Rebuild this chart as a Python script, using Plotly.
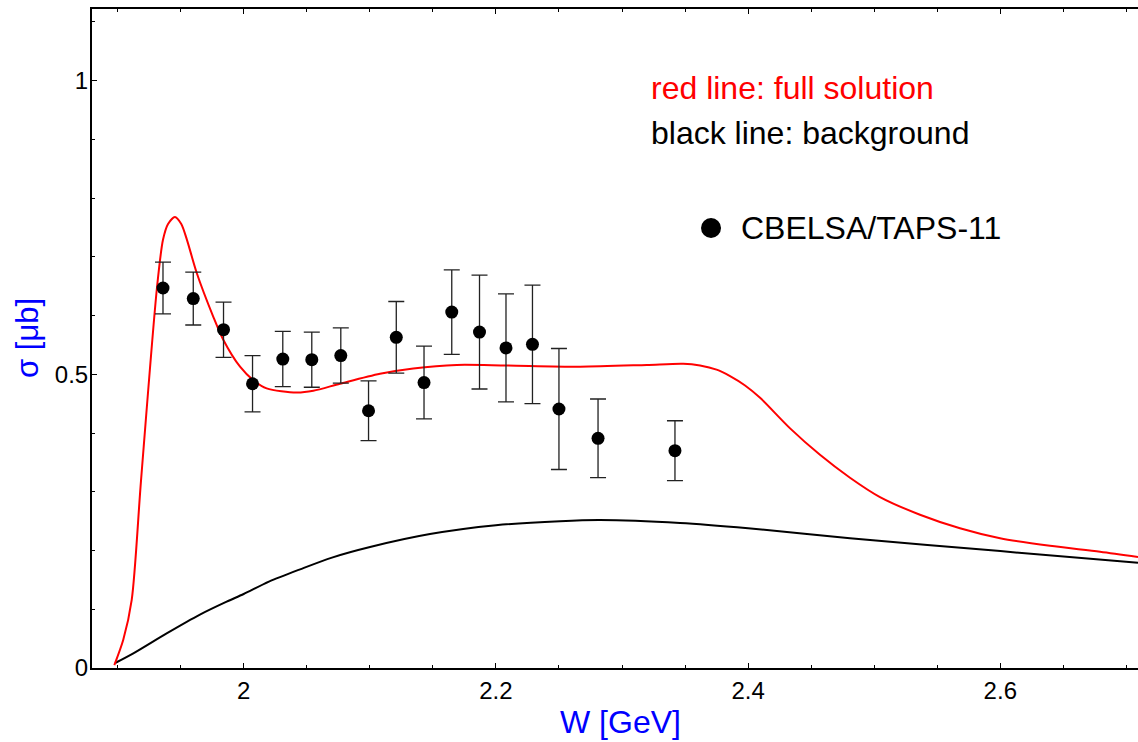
import plotly.graph_objects as go

# --- measured cross sections (CBELSA/TAPS-11) ---
w_data = [1.936, 1.960, 1.984, 2.007, 2.031, 2.054, 2.077, 2.099, 2.121,
          2.143, 2.165, 2.187, 2.208, 2.229, 2.250, 2.281, 2.342]
sigma_data = [0.647, 0.629, 0.576, 0.484, 0.526, 0.525, 0.532, 0.438, 0.563,
              0.486, 0.606, 0.572, 0.545, 0.551, 0.441, 0.391, 0.370]
sigma_err = [0.044, 0.045, 0.047, 0.048, 0.047, 0.047, 0.047, 0.051, 0.061,
             0.062, 0.072, 0.097, 0.092, 0.101, 0.103, 0.067, 0.051]

# --- full solution (red) ---
w_full = [1.8974, 1.9045, 1.9112, 1.9186, 1.9312, 1.9360, 1.9400, 1.9455,
          1.9505, 1.9550, 1.9627, 1.9759, 1.9838, 1.9971, 2.0076, 2.0182,
          2.0420, 2.0552, 2.0764, 2.1081, 2.1345, 2.1689, 2.2086, 2.2667,
          2.3196, 2.3486, 2.3619, 2.3750, 2.3857, 2.3976, 2.4095, 2.4333,
          2.4570, 2.4808, 2.5046, 2.5363, 2.5680, 2.5998, 2.6394, 2.6791,
          2.7092]
sigma_full = [0.005, 0.048, 0.116, 0.320, 0.647, 0.729, 0.756, 0.768,
              0.756, 0.729, 0.673, 0.598, 0.559, 0.513, 0.490, 0.476,
              0.469, 0.472, 0.484, 0.501, 0.510, 0.516, 0.515, 0.513,
              0.516, 0.518, 0.515, 0.508, 0.497, 0.481, 0.460, 0.408,
              0.363, 0.324, 0.291, 0.261, 0.238, 0.221, 0.208, 0.198,
              0.189]

# --- background (black) ---
w_bg = [1.898, 1.9125, 1.9389, 1.9653, 1.9865, 2.0, 2.02, 2.0447, 2.07,
        2.1002, 2.1477, 2.2, 2.2508, 2.2826, 2.346, 2.4, 2.4808, 2.6, 2.7092]
sigma_bg = [0.0085, 0.025, 0.059, 0.091, 0.113, 0.126, 0.147, 0.168, 0.188,
            0.206, 0.228, 0.243, 0.250, 0.252, 0.247, 0.238, 0.221, 0.199,
            0.179]

FONT = "Liberation Sans, Arial, sans-serif"

fig = go.Figure()

fig.add_trace(go.Scatter(
    x=w_bg, y=sigma_bg, mode="lines",
    line=dict(color="black", width=2, shape="spline", smoothing=0.8),
    hoverinfo="skip"))

fig.add_trace(go.Scatter(
    x=w_full, y=sigma_full, mode="lines",
    line=dict(color="#ff0000", width=2, shape="spline", smoothing=0.8),
    hoverinfo="skip"))

fig.add_trace(go.Scatter(
    x=w_data, y=sigma_data, mode="markers",
    marker=dict(color="black", size=13),
    error_y=dict(type="data", array=sigma_err, color="#222222",
                 thickness=1.3, width=8)))

axis_common = dict(
    showgrid=False, zeroline=False, showline=True, linecolor="black",
    linewidth=2, ticks="inside", tickcolor="black", tickwidth=1.2,
    ticklen=5, tickfont=dict(family=FONT, size=24, color="black"))

fig.update_xaxes(
    range=[1.8797, 2.7092], tickvals=[2.0, 2.2, 2.4, 2.6],
    ticktext=["2", "2.2", "2.4", "2.6"], mirror="ticks",
    minor=dict(dtick=0.05, tick0=2.0, ticks="inside", ticklen=3,
               tickcolor="black", tickwidth=1),
    **axis_common)
fig.update_yaxes(
    range=[0, 1.122], tickvals=[0, 0.5, 1], ticktext=["0", "0.5", "1"],
    ticklabelstandoff=-3,
    minor=dict(dtick=0.1, tick0=0, ticks="inside", ticklen=3,
               tickcolor="black", tickwidth=1),
    **axis_common)

annotations = [
    dict(text="red line: full solution", x=0.5325, y=0.8801, color="#ff0000"),
    dict(text="black line: background", x=0.5325, y=0.8118, color="black"),
    dict(text="CBELSA/TAPS-11", x=0.6185, y=0.6677, color="black"),
]
for a in annotations:
    fig.add_annotation(xref="paper", yref="paper", xanchor="left",
                       yanchor="middle", showarrow=False, x=a["x"], y=a["y"],
                       text=a["text"],
                       font=dict(family=FONT, size=32, color=a["color"]))

# axis titles
fig.add_annotation(xref="paper", yref="paper", x=0.5057, y=-0.0819,
                   xanchor="center", yanchor="middle", showarrow=False,
                   text="W [GeV]",
                   font=dict(family=FONT, size=32, color="#0000ff"))
fig.add_annotation(xref="paper", yref="paper", x=-0.0612, y=0.5008,
                   xanchor="center", yanchor="middle", showarrow=False,
                   textangle=-90, text="σ [μb]",
                   font=dict(family=FONT, size=31, color="#0000ff"))

# legend symbol for the data set
fig.add_shape(type="circle", xref="paper", yref="paper",
              xsizemode="pixel", ysizemode="pixel",
              xanchor=0.5918, yanchor=0.6677,
              x0=-10, x1=10, y0=-10, y1=10,
              fillcolor="black", line=dict(color="black", width=0))

fig.update_layout(
    width=1138, height=742, showlegend=False,
    margin=dict(l=92, r=0, t=9, b=74),
    paper_bgcolor="white", plot_bgcolor="white")

fig.write_html("out.html")
